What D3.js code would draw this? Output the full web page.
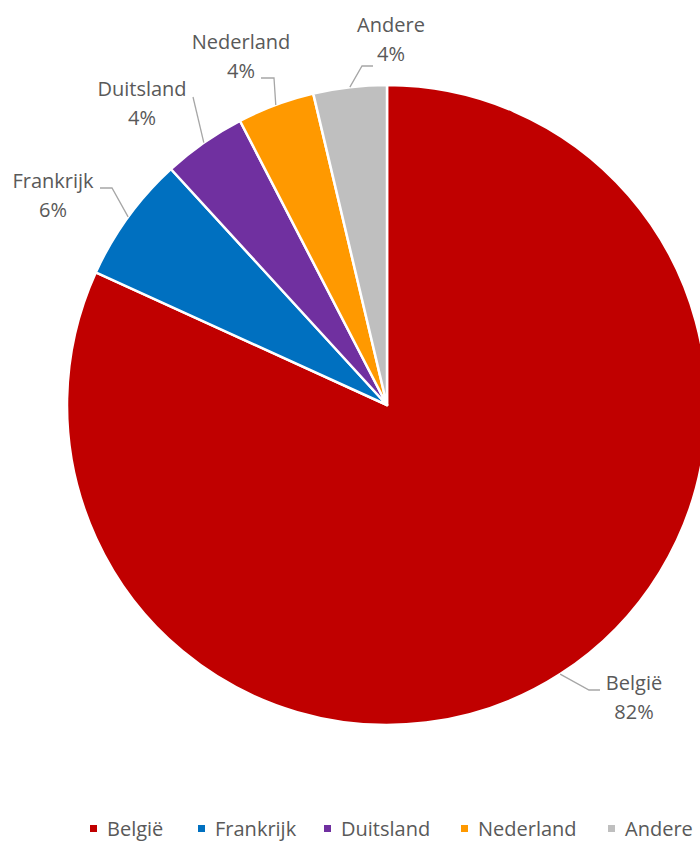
<!DOCTYPE html>
<html>
<head>
<meta charset="utf-8">
<script src="https://cdn.jsdelivr.net/npm/d3@7/dist/d3.min.js"></script>
<style>
  html, body { margin: 0; padding: 0; background: #fff; }
  svg { display: block; }
  text { font-family: "Open Sans", sans-serif; fill: #595959; }
</style>
</head>
<body>
<svg id="chart" width="700" height="842"></svg>
<script>
// ---- data ----
const categories = ["België", "Frankrijk", "Duitsland", "Nederland", "Andere"];
const values = [81.8, 6.4, 4.2, 3.9, 3.7];
const pctLabels = ["82%", "6%", "4%", "4%", "4%"];
const colors = ["#C00000", "#0070C0", "#7030A0", "#FF9900", "#BFBFBF"];

// ---- layout (positions of labels / leader elbows) ----
const labelLayout = [
  { elbow: [589, 690], end: [600, 690], text: [634, 690] },
  { elbow: [112, 188], end: [100, 188], text: [53, 188] },
  { elbow: [193, 97],  end: [193, 97],  text: [142, 96] },
  { elbow: [274, 78],  end: [261, 78],  text: [241, 49] },
  { elbow: [362, 66],  end: [373, 66],  text: [391, 32] }
];
const legendX = [90, 198, 324, 461, 608];

const svg = d3.select("#chart");
const cx = 387, cy = 405, R = 320;

const data = categories.map((c, i) => ({ name: c, value: values[i], pct: pctLabels[i], color: colors[i], layout: labelLayout[i] }));

const pie = d3.pie().value(d => d.value).sort(null).startAngle(0).endAngle(2 * Math.PI);
const arcs = pie(data);
const arc = d3.arc().innerRadius(0).outerRadius(R);
const edgeArc = d3.arc().innerRadius(R).outerRadius(R);

const g = svg.append("g").attr("transform", `translate(${cx},${cy})`);
g.selectAll("path.slice")
  .data(arcs)
  .join("path")
  .attr("class", "slice")
  .attr("d", arc)
  .attr("fill", d => d.data.color)
  .attr("stroke", "#fff")
  .attr("stroke-width", 2.5)
  .attr("stroke-linejoin", "round");

// leader lines + labels
const lg = svg.append("g");
arcs.forEach(a => {
  const c = edgeArc.centroid(a);
  const start = [c[0] + cx, c[1] + cy];
  const L = a.data.layout;
  lg.append("polyline")
    .attr("points", [start, L.elbow, L.end].map(p => p.join(",")).join(" "))
    .attr("fill", "none")
    .attr("stroke", "#A6A6A6")
    .attr("stroke-width", 1.3);
  const t = lg.append("text")
    .attr("text-anchor", "middle")
    .attr("font-size", 20)
    .attr("x", L.text[0])
    .attr("y", L.text[1]);
  t.append("tspan").attr("x", L.text[0]).attr("dy", 0).text(a.data.name);
  t.append("tspan").attr("x", L.text[0]).attr("dy", 28.5).text(a.data.pct);
});

// legend
const leg = svg.append("g");
data.forEach((d, i) => {
  leg.append("rect")
    .attr("x", legendX[i]).attr("y", 825)
    .attr("width", 7).attr("height", 7)
    .attr("fill", d.color);
  leg.append("text")
    .attr("x", legendX[i] + 17).attr("y", 836)
    .attr("font-size", 20)
    .text(d.name);
});
</script>
</body>
</html>
